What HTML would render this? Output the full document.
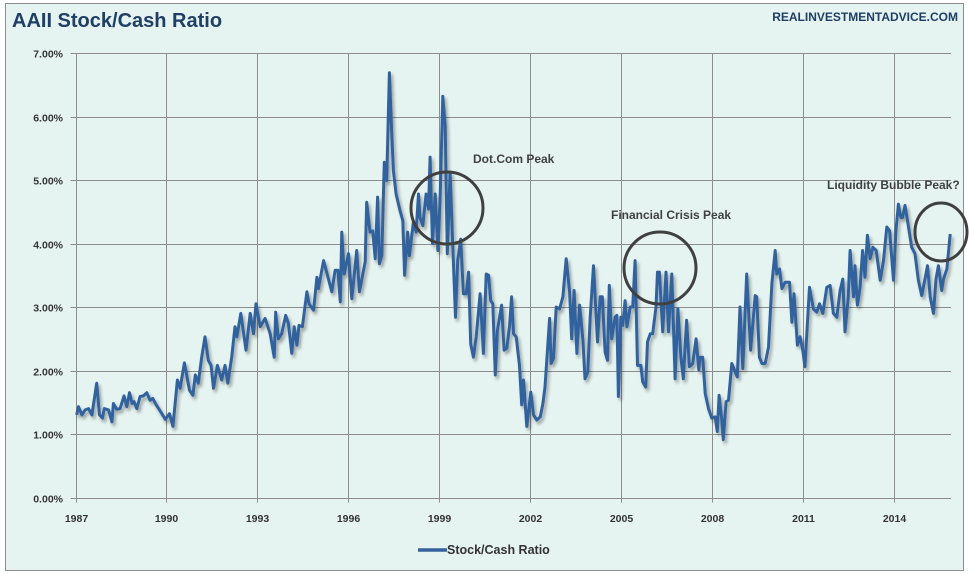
<!DOCTYPE html>
<html><head><meta charset="utf-8"><style>
body{margin:0;background:#fff;}
svg{display:block;font-family:"Liberation Sans",sans-serif;}
</style></head><body>
<svg id="chart" width="970" height="575" viewBox="0 0 970 575">
<defs><filter id="sh" x="-5%" y="-5%" width="110%" height="110%"><feGaussianBlur in="SourceAlpha" stdDeviation="1.5"/><feOffset dx="2" dy="3" result="b"/><feComponentTransfer><feFuncA type="linear" slope="0.35"/></feComponentTransfer><feMerge><feMergeNode/><feMergeNode in="SourceGraphic"/></feMerge></filter></defs>
<rect x="5.5" y="3.5" width="958" height="567" fill="#e6f4f1" stroke="#8c8c8c"/>
<text x="12" y="27" font-size="20" font-weight="bold" fill="#1f3f66">AAII Stock/Cash Ratio</text>
<text x="958" y="21" font-size="12" font-weight="bold" fill="#1f3f66" text-anchor="end">REALINVESTMENTADVICE.COM</text>
<g id="grid"></g><g id="labels"></g>
<g id="series" filter="url(#sh)"></g>
<g fill="none" stroke="#404040" stroke-width="3">
<ellipse cx="447" cy="208" rx="36" ry="36"/>
<ellipse cx="660" cy="268" rx="36" ry="36"/>
<ellipse cx="941" cy="232" rx="26" ry="29"/>
</g>
<g font-size="12" font-weight="bold" fill="#404040">
<text x="473" y="163">Dot.Com Peak</text>
<text x="611" y="219">Financial Crisis Peak</text>
<text x="827" y="189">Liquidity Bubble Peak?</text>
</g>
<g>
<line x1="418" y1="550" x2="447" y2="550" stroke="#33629e" stroke-width="3.5"/>
<text x="447" y="554" font-size="12.5" font-weight="bold" fill="#333">Stock/Cash Ratio</text>
</g>
</svg>
<script>
const years=[1987.04,1987.10,1987.21,1987.32,1987.43,1987.54,1987.70,1987.79,1987.89,1987.95,1988.09,1988.20,1988.25,1988.36,1988.47,1988.60,1988.69,1988.78,1988.87,1988.93,1989.02,1989.13,1989.24,1989.35,1989.46,1989.55,1989.66,1989.77,1989.96,1990.10,1990.21,1990.36,1990.45,1990.59,1990.76,1990.87,1990.95,1991.05,1991.16,1991.27,1991.38,1991.47,1991.55,1991.68,1991.82,1991.93,1992.02,1992.15,1992.26,1992.32,1992.45,1992.62,1992.76,1992.87,1992.95,1993.09,1993.25,1993.42,1993.55,1993.60,1993.69,1993.80,1993.93,1994.02,1994.13,1994.21,1994.30,1994.37,1994.48,1994.63,1994.70,1994.85,1994.96,1995.01,1995.18,1995.45,1995.56,1995.65,1995.73,1995.78,1995.86,1996.00,1996.11,1996.27,1996.36,1996.55,1996.60,1996.71,1996.80,1996.88,1996.96,1997.02,1997.10,1997.18,1997.26,1997.35,1997.43,1997.48,1997.57,1997.70,1997.79,1997.85,1997.95,1998.01,1998.14,1998.23,1998.31,1998.36,1998.45,1998.56,1998.64,1998.69,1998.77,1998.86,1998.95,1999.02,1999.11,1999.19,1999.26,1999.35,1999.42,1999.53,1999.60,1999.70,1999.79,1999.88,1999.96,2000.03,2000.12,2000.21,2000.34,2000.45,2000.54,2000.62,2000.69,2000.76,2000.84,2000.91,2001.05,2001.13,2001.22,2001.31,2001.38,2001.44,2001.53,2001.64,2001.71,2001.77,2001.88,2002.01,2002.10,2002.21,2002.32,2002.41,2002.48,2002.63,2002.68,2002.76,2002.85,2002.96,2003.07,2003.18,2003.29,2003.36,2003.44,2003.53,2003.62,2003.73,2003.80,2003.89,2003.97,2004.08,2004.21,2004.30,2004.37,2004.46,2004.54,2004.60,2004.68,2004.79,2004.85,2004.90,2004.98,2005.04,2005.12,2005.18,2005.29,2005.37,2005.45,2005.53,2005.64,2005.70,2005.80,2005.86,2005.95,2006.03,2006.14,2006.19,2006.25,2006.36,2006.47,2006.55,2006.66,2006.77,2006.86,2006.96,2007.04,2007.15,2007.24,2007.35,2007.46,2007.55,2007.59,2007.68,2007.76,2007.87,2007.98,2008.09,2008.16,2008.22,2008.30,2008.36,2008.45,2008.53,2008.64,2008.75,2008.82,2008.91,2009.00,2009.13,2009.26,2009.41,2009.46,2009.55,2009.63,2009.74,2009.85,2009.96,2010.07,2010.12,2010.21,2010.29,2010.40,2010.54,2010.62,2010.69,2010.80,2010.89,2010.98,2011.05,2011.20,2011.33,2011.44,2011.53,2011.64,2011.77,2011.88,2011.99,2012.10,2012.21,2012.30,2012.37,2012.48,2012.54,2012.65,2012.70,2012.78,2012.87,2012.95,2013.03,2013.11,2013.20,2013.29,2013.40,2013.53,2013.64,2013.75,2013.84,2013.97,2014.05,2014.13,2014.21,2014.27,2014.35,2014.43,2014.57,2014.68,2014.79,2014.90,2015.01,2015.09,2015.18,2015.29,2015.37,2015.45,2015.56,2015.62,2015.73,2015.84];
const ratios=[1.30,1.43,1.30,1.38,1.40,1.30,1.80,1.30,1.25,1.40,1.38,1.19,1.48,1.39,1.40,1.60,1.43,1.65,1.48,1.51,1.40,1.59,1.60,1.65,1.53,1.56,1.46,1.38,1.23,1.32,1.12,1.85,1.72,2.12,1.69,1.61,1.93,1.80,2.21,2.53,2.16,2.08,1.72,2.08,1.85,2.08,1.80,2.21,2.69,2.53,2.90,2.32,2.90,2.58,3.05,2.69,2.82,2.58,2.21,2.92,2.50,2.58,2.87,2.74,2.27,2.69,2.40,2.71,2.69,3.24,3.05,2.95,3.47,3.29,3.73,3.24,3.58,3.58,3.08,4.18,3.52,3.84,3.13,3.89,3.24,3.71,4.65,4.18,4.20,3.76,4.73,3.68,3.81,5.28,4.99,6.69,5.72,5.15,4.78,4.52,4.36,3.50,4.18,3.81,4.34,4.18,4.78,4.41,4.28,4.78,4.54,5.36,4.00,4.78,3.89,4.70,6.32,5.85,3.84,5.12,4.20,2.84,3.73,4.07,3.21,3.21,3.55,2.42,2.21,2.53,3.21,2.27,3.52,3.50,3.10,3.05,1.93,2.63,3.03,2.32,2.35,2.69,3.16,2.58,2.53,2.08,1.46,1.85,1.12,1.66,1.30,1.22,1.27,1.48,1.74,2.82,2.11,2.19,3.00,2.97,3.16,3.76,3.24,2.50,3.26,2.27,3.03,2.48,1.87,1.98,2.84,3.65,2.45,3.16,3.16,2.29,2.16,3.34,2.50,2.84,2.87,1.59,2.84,2.71,3.10,2.69,3.00,3.00,3.73,2.08,2.08,1.82,1.74,2.45,2.58,2.58,3.00,3.55,3.55,2.61,3.55,2.61,3.52,1.87,2.97,2.21,1.87,2.79,2.06,2.11,2.50,2.01,2.21,2.21,1.64,1.40,1.25,1.27,1.04,1.61,1.27,0.91,1.51,1.53,2.11,1.98,1.90,3.00,2.03,3.52,2.32,3.18,3.16,2.21,2.11,2.11,2.37,3.37,3.89,3.52,3.60,3.29,3.39,3.39,2.76,3.21,2.40,2.53,2.32,2.06,3.31,2.97,2.92,3.05,2.90,3.31,3.34,2.90,2.84,3.26,3.44,2.61,3.16,3.89,3.16,3.65,3.03,3.31,3.89,3.47,4.13,3.76,3.94,3.89,3.42,3.73,4.26,4.20,3.42,4.20,4.62,4.41,4.41,4.60,4.36,3.94,3.84,3.42,3.18,3.44,3.65,3.16,2.90,3.44,3.65,3.26,3.44,3.60,4.15];
const yTicks=[0,1,2,3,4,5,6,7];
const xTicks=[1987,1990,1993,1996,1999,2002,2005,2008,2011,2014];
const NS='http://www.w3.org/2000/svg';
const L=75.5,R=951,T=53,B=497.5,X0=1987,PPY=30.33;
function xs(y){return L+(y-X0)*PPY;}
function ys(v){return B-(v/7)*(B-T);}
const grid=document.getElementById('grid'),lab=document.getElementById('labels');
function mk(tag,attrs,parent){const e=document.createElementNS(NS,tag);for(const k in attrs)e.setAttribute(k,attrs[k]);parent.appendChild(e);return e;}
yTicks.forEach(v=>{
  const y=Math.round(ys(v))+0.5;
  const g=mk('line',{x1:L-5,x2:R,y1:y,y2:y,stroke:'#8c8c8c','stroke-width':1},grid);
  
  
  const t=mk('text',{x:63,y:y+4,'font-size':10.5,'font-weight':'bold',fill:'#333','text-anchor':'end'},lab);
  t.textContent=v.toFixed(2)+'%';
  
  
});
xTicks.forEach(yr=>{
  const x=Math.round(xs(yr))+0.5;
  const g=mk('line',{x1:x,x2:x,y1:T,y2:B+5,stroke:'#8c8c8c','stroke-width':1},grid);
  
  
  const t=mk('text',{x:x,y:522,'font-size':10.5,'font-weight':'bold',fill:'#333','text-anchor':'middle'},lab);
  t.textContent=yr;
  
  
});
let d='';
years.forEach((yr,i)=>{d+=(i?'L':'M')+xs(yr).toFixed(1)+','+ys(ratios[i]).toFixed(1);});
const p=mk('path',{d:d,fill:'none',stroke:'#33629e','stroke-width':3,'stroke-linejoin':'round'},document.getElementById('series'));


</script>
</body></html>
